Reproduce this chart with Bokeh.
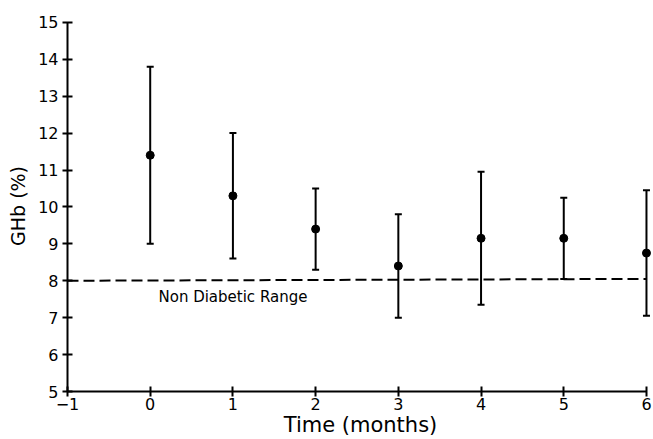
from bokeh.plotting import figure
from bokeh.models import Whisker, ColumnDataSource, Range1d, FixedTicker, Label
from bokeh.embed import file_html
from bokeh.resources import INLINE

months = [0, 1, 2, 3, 4, 5, 6]
ghb_mean = [11.4, 10.3, 9.4, 8.4, 9.15, 9.15, 8.75]
ghb_upper = [13.8, 12.0, 10.5, 9.8, 10.95, 10.25, 10.45]
ghb_lower = [9.0, 8.6, 8.3, 7.0, 7.35, 8.05, 7.05]
ref_x = [-1, 6]
ref_y = [8.0, 8.05]
x_ticks = [-1, 0, 1, 2, 3, 4, 5, 6]
y_ticks = [5, 6, 7, 8, 9, 10, 11, 12, 13, 14, 15]

FONT = "DejaVu Sans"

src = ColumnDataSource(dict(x=months, y=ghb_mean, upper=ghb_upper, lower=ghb_lower))

p = figure(width=653, height=439, output_backend="svg", toolbar_location=None,
           x_range=Range1d(-1, 6.085), y_range=Range1d(5, 15.05),
           min_border_left=67, min_border_right=0, min_border_top=20, min_border_bottom=47)
p.outline_line_color = None
p.xgrid.visible = False
p.ygrid.visible = False
p.background_fill_color = "white"
p.border_fill_color = "white"

p.line(ref_x, ref_y, line_color="black", line_width=2, line_dash="11 5")

w = Whisker(source=src, base="x", upper="upper", lower="lower", dimension="height",
            line_color="black", line_width=2)
for head in (w.upper_head, w.lower_head):
    head.size = 7
    head.line_width = 2
    head.line_color = "black"
p.add_layout(w)

p.scatter("x", "y", source=src, size=8, color="black")

p.add_layout(Label(x=0.10, y=7.57, text="Non Diabetic Range", text_font=FONT,
                   text_font_size="15px", text_color="black", text_baseline="middle"))

for ax in (p.xaxis[0], p.yaxis[0]):
    ax.axis_line_width = 2
    ax.axis_line_color = "black"
    ax.major_tick_line_width = 2
    ax.major_tick_line_color = "black"
    ax.minor_tick_line_color = None
    ax.major_tick_in = 5
    ax.major_tick_out = 5
    ax.major_label_text_font = FONT
    ax.major_label_text_font_size = "16px"
    ax.major_label_text_color = "black"
    ax.axis_label_text_font = FONT
    ax.axis_label_text_font_style = "normal"
    ax.axis_label_text_color = "black"

p.xaxis.ticker = FixedTicker(ticks=x_ticks)
p.yaxis.ticker = FixedTicker(ticks=y_ticks)
p.xaxis.bounds = (-1, 6)
p.yaxis.bounds = (5, 15)
p.xaxis.major_label_overrides = {-1: "\u22121"}
p.xaxis.axis_label = "Time (months)"
p.xaxis.axis_label_text_font_size = "21px"
p.xaxis.axis_label_standoff = 0
p.xaxis.major_label_standoff = 1
p.yaxis.axis_label = "GHb (%)"
p.yaxis.axis_label_text_font_size = "19px"
p.yaxis.axis_label_standoff = 6
p.yaxis.major_label_standoff = 4

open("out.html", "w").write(file_html(p, INLINE))
